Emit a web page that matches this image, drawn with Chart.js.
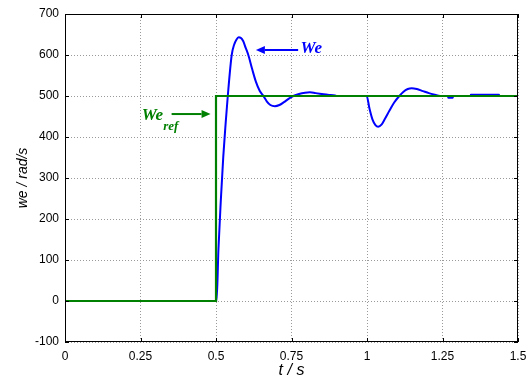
<!DOCTYPE html>
<html>
<head>
<meta charset="utf-8">
<script src="https://cdn.jsdelivr.net/npm/chart.js@4"></script>
<style>
  body { margin: 0; background: #fff; }
  canvas { display: block; }
</style>
</head>
<body>
<canvas id="myChart" width="530" height="380"></canvas>
<script>
// speed response
const tBlue = [0, 0.502, 0.508, 0.516, 0.524, 0.532, 0.539, 0.552, 0.560, 0.568, 0.575, 0.582, 0.590, 0.598, 0.607, 0.620, 0.632, 0.645, 0.657, 0.668, 0.680, 0.695, 0.710, 0.725, 0.740, 0.756, 0.775, 0.795, 0.811, 0.830, 0.850, 0.870, 0.894, 0.900, 0.999, 1.008, 1.018, 1.028, 1.037, 1.048, 1.060, 1.075, 1.090, 1.107, 1.120, 1.135, 1.148, 1.165, 1.185, 1.205, 1.225, 1.242, 1.268, 1.269, 1.284, 1.285, 1.343, 1.344, 1.437, 1.438, 1.5]
const weBlue = [0, 0, 125, 246, 351, 434, 500, 600, 625, 638, 643, 642, 634, 618, 600, 565, 535, 512, 500, 487, 478, 475, 478, 485, 493, 500, 505, 508, 509, 507, 505, 503, 501, 500, 500, 470, 443, 429, 425, 430, 445, 465, 484, 500, 510, 517, 519, 517, 512, 507, 503, 500, 500, 496, 496, 500, 500, 503, 503, 500, 500]

// reference step
const tRef = [0, 0.5, 0.5, 1.5]
const weRef = [0, 0, 500, 500]

const xTicks = [0, 0.25, 0.5, 0.75, 1, 1.25, 1.5]
const yTicks = [-100, 0, 100, 200, 300, 400, 500, 600, 700]

const toPoints = (xs, ys) => xs.map((x, i) => ({x: x, y: ys[i]}))

function arrow(ctx, x1, y1, x2, y2, color) {
    const ang = Math.atan2(y2 - y1, x2 - x1)
    const hl = 9, hw = 4
    ctx.strokeStyle = color
    ctx.fillStyle = color
    ctx.lineWidth = 2
    ctx.beginPath()
    ctx.moveTo(x1, y1)
    ctx.lineTo(x2 - hl * Math.cos(ang), y2 - hl * Math.sin(ang))
    ctx.stroke()
    ctx.beginPath()
    ctx.moveTo(x2, y2)
    ctx.lineTo(x2 - hl * Math.cos(ang) + hw * Math.sin(ang), y2 - hl * Math.sin(ang) - hw * Math.cos(ang))
    ctx.lineTo(x2 - hl * Math.cos(ang) - hw * Math.sin(ang), y2 - hl * Math.sin(ang) + hw * Math.cos(ang))
    ctx.closePath()
    ctx.fill()
}

const boxAndLabels = {
    id: 'boxAndLabels',
    beforeDraw(chart) {
        const ctx = chart.ctx
        ctx.save()
        ctx.fillStyle = '#fff'
        ctx.fillRect(0, 0, chart.width, chart.height)
        ctx.restore()
    },
    afterDatasetsDraw(chart) {
        const ctx = chart.ctx
        const a = chart.chartArea
        const xs = chart.scales.x, ys = chart.scales.y
        ctx.save()
        // box
        ctx.strokeStyle = '#000'
        ctx.lineWidth = 1
        ctx.strokeRect(a.left + 0.5, a.top + 0.5, a.right - a.left - 1, a.bottom - a.top - 1)
        // inward ticks
        ctx.beginPath()
        xTicks.forEach(v => {
            const px = Math.round(xs.getPixelForValue(v)) + 0.5
            ctx.moveTo(px, a.bottom); ctx.lineTo(px, a.bottom - 4)
            ctx.moveTo(px, a.top); ctx.lineTo(px, a.top + 4)
        })
        yTicks.forEach(v => {
            const py = Math.round(ys.getPixelForValue(v)) + 0.5
            ctx.moveTo(a.left, py); ctx.lineTo(a.left + 4, py)
            ctx.moveTo(a.right, py); ctx.lineTo(a.right - 4, py)
        })
        ctx.stroke()

        // We annotation
        ctx.font = 'italic bold 17px "Liberation Serif"'
        ctx.fillStyle = '#0000ff'
        ctx.textBaseline = 'alphabetic'
        ctx.fillText('We', xs.getPixelForValue(0.78), ys.getPixelForValue(605))
        arrow(ctx, xs.getPixelForValue(0.772), ys.getPixelForValue(612), xs.getPixelForValue(0.632), ys.getPixelForValue(612), '#0000ff')

        // We_ref annotation
        ctx.fillStyle = '#008000'
        ctx.font = 'italic bold 17px "Liberation Serif"'
        ctx.fillText('We', xs.getPixelForValue(0.254), ys.getPixelForValue(441))
        ctx.font = 'italic bold 13px "Liberation Serif"'
        ctx.fillText('ref', xs.getPixelForValue(0.325), ys.getPixelForValue(416))
        arrow(ctx, xs.getPixelForValue(0.353), ys.getPixelForValue(456), xs.getPixelForValue(0.482), ys.getPixelForValue(456), '#008000')
        ctx.restore()
    }
}

const ctx = document.getElementById('myChart').getContext('2d')
const myChart = new Chart(ctx, {
    type: 'line',
    data: {
        datasets: [
            {
                label: 'We_ref',
                data: toPoints(tRef, weRef),
                borderColor: '#008000',
                borderWidth: 2.2,
                pointRadius: 0,
                tension: 0
            },
            {
                label: 'We',
                data: toPoints(tBlue, weBlue),
                borderColor: '#0000ff',
                borderWidth: 2,
                pointRadius: 0,
                cubicInterpolationMode: 'monotone'
            }
        ]
    },
    options: {
        responsive: false,
        animation: false,
        layout: { padding: { left: 0, right: 12, top: 14, bottom: 0 } },
        plugins: {
            legend: { display: false },
            tooltip: { enabled: false }
        },
        scales: {
            x: {
                type: 'linear',
                min: 0,
                max: 1.5,
                afterBuildTicks: (scale) => { scale.ticks = xTicks.map(v => ({value: v})) },
                afterFit: (scale) => {
                    scale.height = 38
                    scale.paddingLeft = 0
                    scale.paddingRight = 0
                },
                grid: { color: '#9a9a9a', drawTicks: false },
                border: { display: false, dash: [1, 2] },
                ticks: {
                    padding: 7,
                    color: '#000',
                    font: { family: 'Liberation Sans', size: 12 },
                    callback: (v) => String(v)
                },
                title: {
                    display: true,
                    text: 't / s',
                    color: '#000',
                    padding: { top: 0, bottom: 0 },
                    font: { family: 'Liberation Sans', size: 16, style: 'italic' }
                }
            },
            y: {
                type: 'linear',
                min: -100,
                max: 700,
                afterBuildTicks: (scale) => { scale.ticks = yTicks.map(v => ({value: v})) },
                afterFit: (scale) => {
                    scale.width = 65
                    scale.paddingTop = 0
                    scale.paddingBottom = 0
                },
                grid: { color: '#9a9a9a', drawTicks: false },
                border: { display: false, dash: [1, 2] },
                ticks: {
                    padding: 6,
                    color: '#000',
                    font: { family: 'Liberation Sans', size: 12 }
                },
                title: {
                    display: true,
                    text: 'we / rad/s',
                    color: '#000',
                    padding: { top: 15, bottom: 0 },
                    font: { family: 'Liberation Sans', size: 14, style: 'italic' }
                }
            }
        }
    },
    plugins: [boxAndLabels]
})
</script>
</body>
</html>
